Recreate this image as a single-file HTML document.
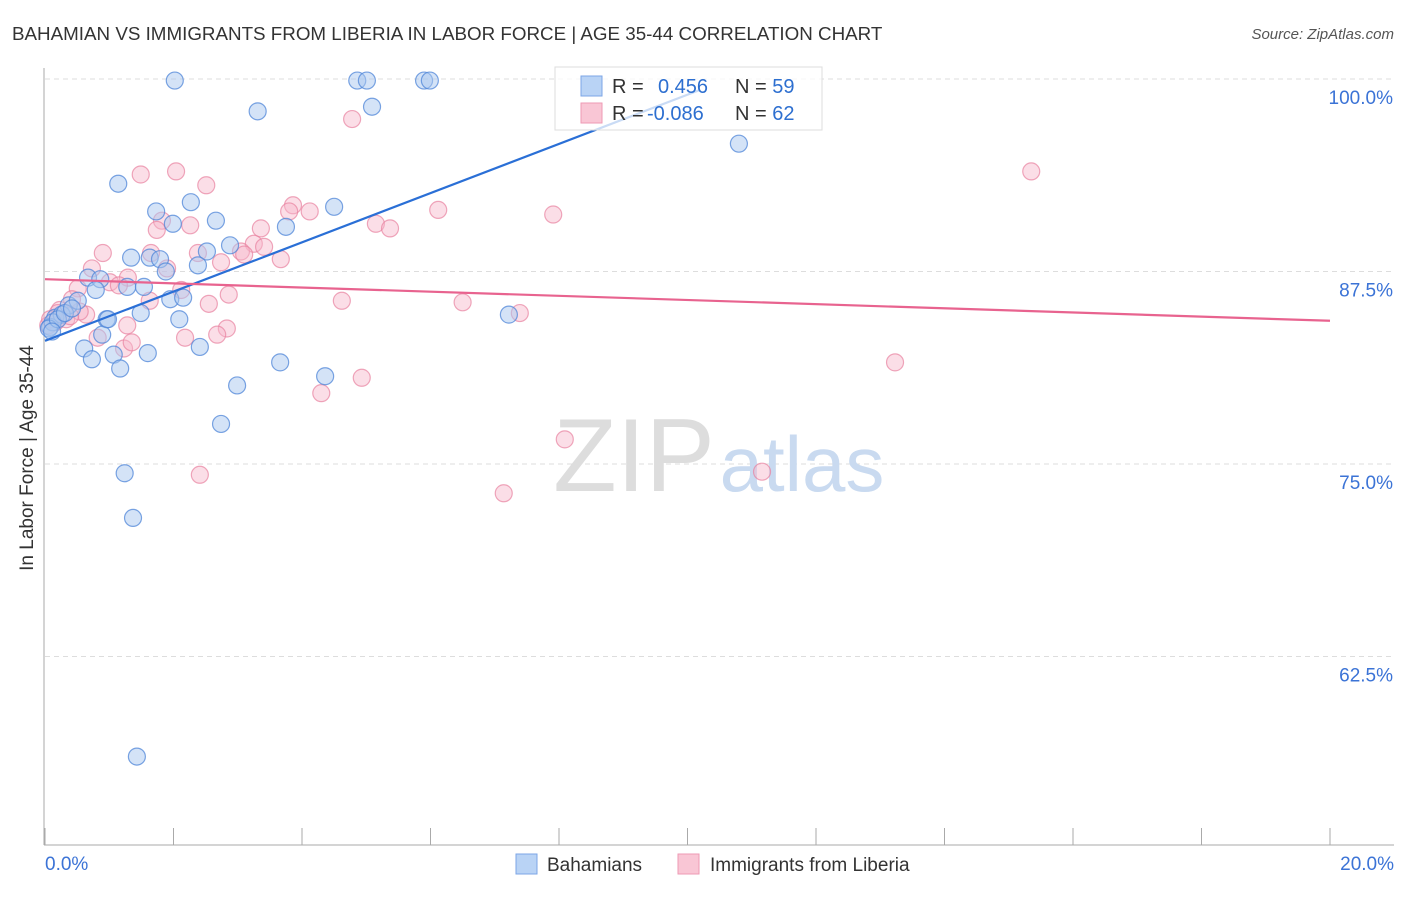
<!DOCTYPE html>
<html><head><meta charset="utf-8">
<style>
body{margin:0;background:#fff;font-family:"Liberation Sans",sans-serif;}
svg text{font-family:"Liberation Sans",sans-serif;}
</style></head>
<body>
<svg id="chart" width="1406" height="892" viewBox="0 0 1406 892">
<text x="12" y="40" font-size="18.8" fill="#333">BAHAMIAN VS IMMIGRANTS FROM LIBERIA IN LABOR FORCE | AGE 35-44 CORRELATION CHART</text>
<text x="1394" y="39" font-size="15" fill="#555" font-style="italic" text-anchor="end">Source: ZipAtlas.com</text>
<text transform="translate(33,458) rotate(-90)" font-size="19" fill="#333" text-anchor="middle">In Labor Force | Age 35-44</text>
<g id="grid"></g>
<g id="axes"></g>
<text x="634" y="491" font-size="104" fill="#ddd" font-family="Liberation Serif,serif" text-anchor="middle">ZIP</text>
<text x="802" y="491" font-size="78" fill="#c9daf0" text-anchor="middle">atlas</text>
<g id="pts"></g>
<g id="lines"></g>
<g>
<rect x="555" y="67" width="267" height="63" fill="#fff" fill-opacity="0.75" stroke="#ddd"/>
<rect x="581" y="76" width="21" height="20" fill="#b9d3f5" stroke="#7ca6e6"/>
<rect x="581" y="103" width="21" height="20" fill="#f9c6d5" stroke="#ee9ab4"/>
<text x="612" y="93" font-size="20" fill="#333">R = <tspan x="658" fill="#2d6fd0">0.456</tspan><tspan x="735" fill="#333">N = </tspan><tspan fill="#2d6fd0">59</tspan></text>
<text x="612" y="120" font-size="20" fill="#333">R = <tspan x="647" fill="#2d6fd0">-0.086</tspan><tspan x="735" fill="#333">N = </tspan><tspan fill="#2d6fd0">62</tspan></text>
</g>
<g>
<rect x="516" y="854" width="21" height="20" fill="#b9d3f5" stroke="#7ca6e6"/>
<text x="547" y="871" font-size="19" fill="#333">Bahamians</text>
<rect x="678" y="854" width="21" height="20" fill="#f9c6d5" stroke="#ee9ab4"/>
<text x="710" y="871" font-size="19" fill="#333">Immigrants from Liberia</text>
</g>
</svg>
<script>
const yTicks=[100,87.5,75,62.5];
const yTickLabels=["100.0%","87.5%","75.0%","62.5%"];
const xTicks=[0,2,4,6,8,10,12,14,16,18,20];
const xEndLabels=["0.0%","20.0%"];
const blueX=[2.02,4.86,5.01,5.90,5.99,3.31,5.09,10.80,1.14,1.73,2.27,2.66,1.99,3.75,4.50,1.34,1.63,1.79,2.52,2.88,2.38,0.67,0.86,0.79,1.28,1.54,1.88,1.95,2.15,0.37,0.51,1.49,0.96,2.09,0.16,0.26,0.08,0.12,0.61,0.73,0.89,1.07,1.17,1.60,2.41,2.99,3.66,4.36,7.22,2.74,1.24,1.37,1.43,0.06,0.20,0.31,0.42,0.11,0.98];
const blueY=[99.9,99.9,99.9,99.9,99.9,97.9,98.2,95.8,93.2,91.4,92.0,90.8,90.6,90.4,91.7,88.4,88.4,88.3,88.8,89.2,87.9,87.1,87.0,86.3,86.5,86.5,87.5,85.7,85.8,85.3,85.6,84.8,84.4,84.4,84.5,84.7,83.9,84.2,82.5,81.8,83.4,82.1,81.2,82.2,82.6,80.1,81.6,80.7,84.7,77.6,74.4,71.5,56.0,83.8,84.4,84.8,85.1,83.6,84.4];
const pinkX=[4.78,2.04,1.49,2.51,15.35,3.86,3.80,4.12,6.12,7.91,1.82,1.74,2.26,5.15,5.37,3.36,3.25,3.41,3.05,3.10,2.38,1.65,0.90,3.67,2.74,0.73,1.29,1.01,1.15,1.90,1.63,2.12,2.86,2.55,4.62,6.50,7.39,0.51,0.42,0.23,0.64,1.28,2.83,2.68,2.18,0.82,1.23,1.35,13.23,4.93,4.30,8.09,2.41,11.16,7.14,0.16,0.05,0.33,0.20,0.54,0.39,0.08];
const pinkY=[97.4,94.0,93.8,93.1,94.0,91.8,91.4,91.4,91.5,91.2,90.8,90.2,90.5,90.6,90.3,90.3,89.3,89.1,88.8,88.6,88.7,88.7,88.7,88.3,88.1,87.7,87.1,86.8,86.6,87.7,85.6,86.3,86.0,85.4,85.6,85.5,84.8,86.4,85.7,85.0,84.7,84.0,83.8,83.4,83.2,83.2,82.5,82.9,81.6,80.6,79.6,76.6,74.3,74.5,73.1,84.2,84.0,84.4,84.8,84.9,84.6,84.4];
const blueTrendX=[0,10.2];
const blueTrendY=[83.0,99.3];
const pinkTrendX=[0,20];
const pinkTrendY=[87.0,84.3];

const NS="http://www.w3.org/2000/svg";
function xs(v){return 45+v/20*1285;}
function ys(v){return 79+(100-v)/12.5*192.5;}
function mk(tag,attrs,parent){const e=document.createElementNS(NS,tag);for(const k in attrs)e.setAttribute(k,attrs[k]);parent.appendChild(e);return e;}
const grid=document.getElementById('grid'),axes=document.getElementById('axes'),pts=document.getElementById('pts'),lines=document.getElementById('lines');
yTicks.forEach((t,i)=>{
  const l=mk('line',{x1:45,x2:1394,y1:ys(t),y2:ys(t),stroke:'#ddd','stroke-dasharray':'5,4'},grid);
  
  
  const tx=mk('text',{x:1393,y:ys(t)+25,'font-size':19,fill:'#3b73d6','text-anchor':'end'},grid);
  tx.textContent=yTickLabels[i];
  
  
});
const ya=mk('line',{x1:44,x2:44,y1:68,y2:845,stroke:'#aaa'},axes);


const xa=mk('line',{x1:44,x2:1394,y1:845,y2:845,stroke:'#aaa'},axes);


xTicks.forEach(t=>{
  const l=mk('line',{x1:xs(t),x2:xs(t),y1:828,y2:845,stroke:'#aaa'},axes);
  
  
});
[0,20].forEach((t,i)=>{
  const tx=mk('text',{x:i?1394:45,y:870,'font-size':19,fill:'#3b73d6','text-anchor':i?'end':'start'},axes);
  tx.textContent=xEndLabels[i];
  
  
});
pinkX.forEach((v,i)=>{
  const c=mk('circle',{cx:xs(v),cy:ys(pinkY[i]),r:8.5,fill:'#f7b6c9','fill-opacity':0.45,stroke:'#e8829f','stroke-opacity':0.7,'stroke-width':1.2},pts);
  
  
});
blueX.forEach((v,i)=>{
  const c=mk('circle',{cx:xs(v),cy:ys(blueY[i]),r:8.5,fill:'#a9c8f0','fill-opacity':0.5,stroke:'#4f86d8','stroke-opacity':0.75,'stroke-width':1.2},pts);
  
  
});
const bl=mk('line',{x1:xs(blueTrendX[0]),y1:ys(blueTrendY[0]),x2:xs(blueTrendX[1]),y2:ys(blueTrendY[1]),stroke:'#2a6fd6','stroke-width':2.2},lines);


const pl=mk('line',{x1:xs(pinkTrendX[0]),y1:ys(pinkTrendY[0]),x2:xs(pinkTrendX[1]),y2:ys(pinkTrendY[1]),stroke:'#e8638f','stroke-width':2.2},lines);


</script>
</body></html>
